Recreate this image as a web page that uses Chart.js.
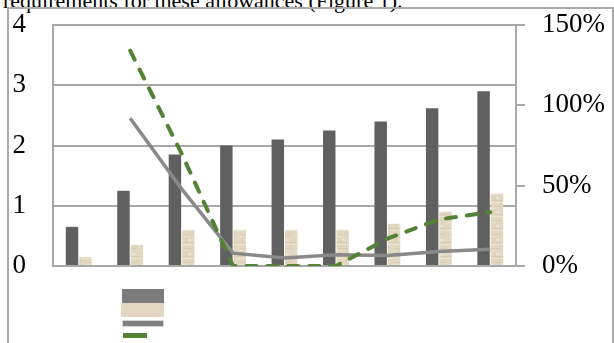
<!DOCTYPE html>
<html>
<head>
<meta charset="utf-8">
<script src="https://cdn.jsdelivr.net/npm/chart.js@4"></script>
<style>
  html, body { margin: 0; padding: 0; background: #fff; }
  body { width: 614px; height: 343px; position: relative; overflow: hidden; font-family: "Liberation Serif", serif; }
  #caption { position: absolute; left: 3px; top: -10px; font-size: 22px; line-height: 22px; white-space: nowrap; color: #000; }
  #frame { position: absolute; left: 7px; top: 7px; width: 603px; height: 400px; border: 2px solid #ababab; }
  #chartBox { position: absolute; left: 0; top: 0; width: 614px; height: 343px; }
  .sw { position: absolute; }
</style>
</head>
<body>
<div id="caption">requirements for these allowances (Figure 1).</div>
<div id="frame"></div>
<div id="chartBox"><canvas id="myChart" width="614" height="343"></canvas></div>
<div class="sw" style="left:122px;top:289px;width:42px;height:14px;background:#7c7c7c"></div>
<div class="sw" style="left:121px;top:303px;width:43px;height:14px;background:#e2d8c1"></div>
<div class="sw" style="left:122px;top:320px;width:40px;height:5px;background:#808080;border:1px solid #d6d6d6"></div>
<div class="sw" style="left:123px;top:333px;width:24px;height:5px;background:#548235"></div>
<script>
// values
const categories = ['1', '2', '3', '4', '5', '6', '7', '8', '9'];
const darkBars  = [0.65, 1.25, 1.85, 2.0, 2.1, 2.25, 2.4, 2.62, 2.9];
const beigeBars = [0.15, 0.35, 0.6, 0.6, 0.6, 0.6, 0.7, 0.9, 1.2];
const grayLine  = [null, 0.92, 0.48, 0.08, 0.05, 0.07, 0.065, 0.09, 0.105];
const greenLine = [null, 1.34, 0.70, 0, 0, 0, 0.17, 0.29, 0.335];
const leftTicks = [0, 1, 2, 3, 4];
const rightTicks = [0, 0.5, 1, 1.5];

// soft paper texture for the light bars
function paperPattern() {
    const c = document.createElement('canvas');
    c.width = 14; c.height = 14;
    const g = c.getContext('2d');
    g.fillStyle = '#e2d8c2';
    g.fillRect(0, 0, 14, 14);
    g.fillStyle = '#d9ceb5';
    g.fillRect(0, 4, 14, 1);
    g.fillRect(2, 10, 9, 1);
    g.fillRect(4, 0, 1, 4);
    g.fillRect(10, 5, 1, 5);
    g.fillStyle = '#ebe4d3';
    g.fillRect(0, 6, 14, 1);
    g.fillRect(6, 1, 3, 2);
    g.fillRect(1, 12, 4, 1);
    return g.createPattern(c, 'repeat');
}
const beigeFill = paperPattern();

const gridColor = '#a8a8a8';
const tickFont = { family: 'Liberation Serif', size: 27 };

// keep the tick labels from pushing the plot area inwards
function noLabelPadding(scale) {
    scale.paddingTop = 0;
    scale.paddingBottom = 0;
}

var ctx = document.getElementById('myChart').getContext('2d');
var myChart = new Chart(ctx, {
    type: 'bar',
    data: {
        labels: categories,
        datasets: [
            {
                type: 'line',
                data: greenLine,
                yAxisID: 'y1',
                borderColor: '#548235',
                borderWidth: 4,
                borderDash: [10, 11],
                borderCapStyle: 'round',
                pointRadius: 0,
                fill: false,
                order: 0
            },
            {
                type: 'line',
                data: grayLine,
                yAxisID: 'y1',
                borderColor: '#898989',
                borderWidth: 3.5,
                pointRadius: 0,
                fill: false,
                order: 1
            },
            {
                data: darkBars,
                backgroundColor: '#606060',
                yAxisID: 'y',
                order: 2
            },
            {
                data: beigeBars,
                backgroundColor: beigeFill,
                yAxisID: 'y',
                order: 2
            }
        ]
    },
    options: {
        responsive: false,
        animation: false,
        events: [],
        datasets: {
            bar: { categoryPercentage: 0.52, barPercentage: 0.93 }
        },
        layout: { padding: { left: 0, right: 0, top: 25, bottom: 77 } },
        plugins: {
            legend: { display: false },
            tooltip: { enabled: false }
        },
        scales: {
            x: {
                ticks: { display: false },
                grid: { display: false },
                border: { color: gridColor, width: 2 },
                afterFit: (scale) => { scale.height = 0; scale.paddingLeft = 0; scale.paddingRight = 0; }
            },
            y: {
                position: 'left',
                min: 0,
                max: 4,
                afterBuildTicks: (scale) => { scale.ticks = leftTicks.map(v => ({ value: v })); },
                ticks: { font: tickFont, color: '#000', padding: 27 },
                grid: { color: gridColor, lineWidth: 2, drawTicks: false },
                border: { color: gridColor, width: 2 },
                afterFit: (scale) => { scale.width = 53; noLabelPadding(scale); }
            },
            y1: {
                position: 'right',
                min: 0,
                max: 1.5,
                afterBuildTicks: (scale) => { scale.ticks = rightTicks.map(v => ({ value: v })); },
                ticks: {
                    font: tickFont,
                    color: '#000',
                    padding: 17,
                    callback: (v) => Math.round(v * 100) + '%'
                },
                grid: { drawOnChartArea: false, color: gridColor, lineWidth: 2, tickLength: 9 },
                border: { color: gridColor, width: 2 },
                afterFit: (scale) => { scale.width = 98; noLabelPadding(scale); }
            }
        }
    }
});
</script>
</body>
</html>
